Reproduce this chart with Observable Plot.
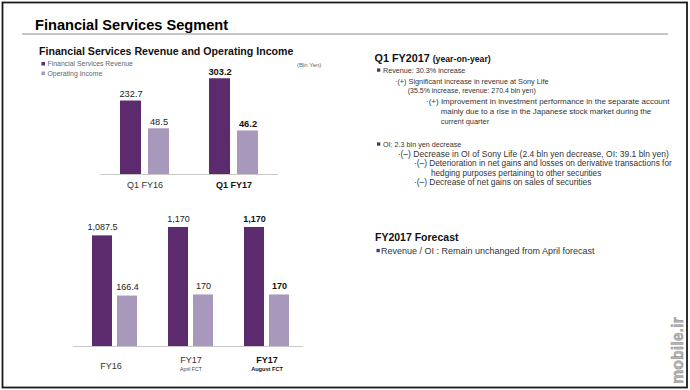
<!DOCTYPE html>
<html><head><meta charset="utf-8">
<script src="https://cdn.jsdelivr.net/npm/d3@7"></script>
<script src="https://cdn.jsdelivr.net/npm/@observablehq/plot@0.6"></script>
<style>
body{margin:0;background:#fff;}
#slide{position:relative;width:690px;height:390px;overflow:hidden;background:#fff;font-family:"Liberation Sans",Arial,sans-serif;}
#slide svg{position:absolute;overflow:visible;}
</style></head><body><div id="slide"></div>
<script>
// ---- data ----
const series = ["Financial Services Revenue", "Operating Income"];
const quarterPeriods = ["Q1 FY16", "Q1 FY17"];
const quarterRevenue = [232.7, 303.2];
const quarterOI = [48.5, 46.2];
const yearPeriods = ["FY16", "FY17 April FCT", "FY17 August FCT"];
const yearMain = ["FY16", "FY17", "FY17"];
const yearSub = ["", "April FCT", "August FCT"];
const yearRevenue = [1087.5, 1170, 1170];
const yearOI = [166.4, 170, 170];
const colors = ["#5b2b6e", "#a898bb"];

const FONT = '"Liberation Sans", Arial, sans-serif';
const fmt = d3.format(",");
const slide = document.getElementById("slide");

function place(svg, o) {
  svg.style.position = "absolute";
  svg.style.left = o.left + "px";
  svg.style.top = o.top + "px";
  slide.appendChild(svg);
}
function records(periods, values, k) {
  return periods.map((p, i) => ({period: p, series: series[k], value: values[i], bold: i === periods.length - 1}));
}
function baseline(o) {
  place(Plot.plot({
    width: o.width, height: o.height,
    marginTop: 0, marginLeft: 0, marginRight: 0, marginBottom: o.marginBottom,
    style: "background: transparent; overflow: visible;",
    y: {domain: [0, o.yMax], axis: null},
    marks: [Plot.ruleY([0], {stroke: "#c8c8c8", strokeWidth: 1.2})]
  }), o);
}
function chart(o) {
  const data = records(o.periods, o.values, o.k);
  const marks = [
    Plot.barY(data, {fx: "period", x: "series", y: "value", fill: colors[o.k]}),
    Plot.text(data.filter(d => !d.bold), {fx: "period", x: "series", y: "value", text: d => fmt(d.value), dy: o.labelDy, fontSize: o.fontSize, fill: "#222"}),
    Plot.text(data.filter(d => d.bold), {fx: "period", x: "series", y: "value", text: d => fmt(d.value), dy: o.labelDy, fontSize: o.fontSize, fontWeight: "bold", fill: "#111"})
  ];
  if (o.axis) marks.push(...o.axis);
  place(Plot.plot({
    width: o.width, height: o.height,
    marginTop: 0, marginLeft: 0, marginRight: 0, marginBottom: o.marginBottom,
    style: `background: transparent; overflow: visible; font-family: ${FONT};`,
    fx: {domain: o.periods, axis: null, paddingInner: o.fxInner, paddingOuter: o.fxOuter, align: o.align},
    x: {domain: series, axis: null, paddingInner: o.xInner, paddingOuter: 0},
    y: {domain: [0, o.yMax], axis: null},
    marks
  }), o);
}

// ---- slide texts ----
const bg = d3.select(slide).append("svg").attr("width", 690).attr("height", 390).style("left", "0px").style("top", "0px");
bg.append("rect").attr("x", 2.5).attr("y", 2.5).attr("width", 684.5).attr("height", 385).attr("fill", "none").attr("stroke", "#1a1a1a").attr("stroke-width", 1.8);
bg.append("line").attr("x1", 22).attr("x2", 668).attr("y1", 34).attr("y2", 34).attr("stroke", "#8c8c8c").attr("stroke-width", 1.2);
function txt(x, y, s, size, weight, color) {
  return bg.append("text").attr("x", x).attr("y", y).attr("font-size", size)
    .attr("font-weight", weight || "normal").attr("fill", color || "#333").attr("font-family", FONT).text(s);
}
function bullet(x, y) {
  bg.append("rect").attr("x", x).attr("y", y - 4.6).attr("width", 3.3).attr("height", 3.3).attr("fill", colors[0]);
}
txt(35, 29.5, "Financial Services Segment", 14.6, "bold", "#000");
txt(39, 55, "Financial Services Revenue and Operating Income", 10.6, "bold", "#111");
bg.append("rect").attr("x", 41.5).attr("y", 62).attr("width", 3.5).attr("height", 3.5).attr("fill", colors[0]);
txt(47.5, 66, series[0], 6.9, "normal", "#666");
bg.append("rect").attr("x", 41.5).attr("y", 71.5).attr("width", 3.5).attr("height", 3.5).attr("fill", colors[1]);
txt(47.5, 75.5, series[1], 6.9, "normal", "#666");
txt(297, 67, "(Bln Yen)", 6, "normal", "#666");

const h1 = txt(374.5, 61.7, "Q1 FY2017 ", 10.8, "bold", "#111");
h1.append("tspan").attr("font-size", 8.7).text("(year-on-year)");
bullet(377, 73); txt(383, 73, "Revenue: 30.3% increase", 7.2, "normal", "#333");
txt(395, 84, "·(+) Significant increase in revenue at Sony Life", 7.3);
txt(407.7, 93, "(35.5% increase, revenue: 270.4 bln yen)", 7.0);
txt(426, 104.3, "·(+) Improvement in investment performance in the separate account", 8.0);
txt(440.7, 114.3, "mainly due to a rise in the Japanese stock market during the", 7.9);
txt(440.7, 123.7, "current quarter", 7.4);
bullet(377, 147); txt(383, 147, "OI: 2.3 bln yen decrease", 7.2, "normal", "#333");
txt(397.7, 157.3, "·(–) Decrease in OI of Sony Life (2.4 bln yen decrease, OI: 39.1 bln yen)", 8.5);
txt(414, 166, "·(–) Deterioration in net gains and losses on derivative transactions for", 8.3);
txt(431, 175.7, "hedging purposes pertaining to other securities", 8.2);
txt(414, 185, "·(–) Decrease of net gains on sales of securities", 8.4);
txt(375, 241, "FY2017 Forecast", 10.5, "bold", "#111");
bullet(376.5, 253.5); txt(381, 253.5, "Revenue / OI : Remain unchanged from April forecast", 9.0, "normal", "#333");
bg.append("text").attr("transform", "translate(683,384) rotate(-90)").attr("font-size", 16).attr("font-weight", "bold")
  .attr("font-family", FONT).attr("fill", "#b4b4b4").attr("stroke", "#8a8a8a").attr("stroke-width", 0.4).text("mobile.ir");

// ---- top chart (quarter) ----
const topGeom = {left: 100, top: 60, width: 178, height: 140, marginBottom: 26, fxInner: 0.427, fxOuter: 0.2135, align: 0.5, xInner: 0.24, fontSize: 9.3};
baseline({...topGeom, yMax: 361});
chart({...topGeom, periods: quarterPeriods, values: quarterRevenue, k: 0, yMax: 361, labelDy: -7,
  axis: [
    Plot.text(quarterPeriods.slice(0, -1), {fx: d => d, text: d => d, frameAnchor: "bottom", dy: 13, fontSize: 9, fill: "#333"}),
    Plot.text(quarterPeriods.slice(-1), {fx: d => d, text: d => d, frameAnchor: "bottom", dy: 13, fontSize: 9, fontWeight: "bold", fill: "#111"})
  ]});
chart({...topGeom, periods: quarterPeriods, values: quarterOI, k: 1, yMax: 121, labelDy: -6.5});

// ---- bottom chart (fiscal year) ----
const botGeom = {left: 73, top: 205, width: 230, height: 175, marginBottom: 34, fxInner: 0.379, fxOuter: 0.193, align: 0.6, xInner: 0.19, fontSize: 9};
const yearIdx = yearPeriods.map((p, i) => i);
const last = yearIdx.length - 1;
baseline({...botGeom, yMax: 1386});
chart({...botGeom, periods: yearPeriods, values: yearRevenue, k: 0, yMax: 1386, labelDy: -8.5,
  axis: [
    Plot.text(yearIdx.filter(i => !yearSub[i]), {fx: i => yearPeriods[i], text: i => yearMain[i], frameAnchor: "bottom", dx: -4, dy: 22, fontSize: 9, fill: "#333"}),
    Plot.text(yearIdx.filter(i => yearSub[i] && i < last), {fx: i => yearPeriods[i], text: i => yearMain[i], frameAnchor: "bottom", dy: 16, fontSize: 9, fill: "#333"}),
    Plot.text(yearIdx.filter(i => yearSub[i] && i < last), {fx: i => yearPeriods[i], text: i => yearSub[i], frameAnchor: "bottom", dy: 24.5, fontSize: 5.2, fill: "#444"}),
    Plot.text([last], {fx: i => yearPeriods[i], text: i => yearMain[i], frameAnchor: "bottom", dy: 16, fontSize: 9, fontWeight: "bold", fill: "#111"}),
    Plot.text([last], {fx: i => yearPeriods[i], text: i => yearSub[i], frameAnchor: "bottom", dy: 24.5, fontSize: 5.6, fontWeight: "bold", fill: "#111"})
  ]});
chart({...botGeom, periods: yearPeriods, values: yearOI, k: 1, yMax: 465, labelDy: -8.5});
</script></body></html>
